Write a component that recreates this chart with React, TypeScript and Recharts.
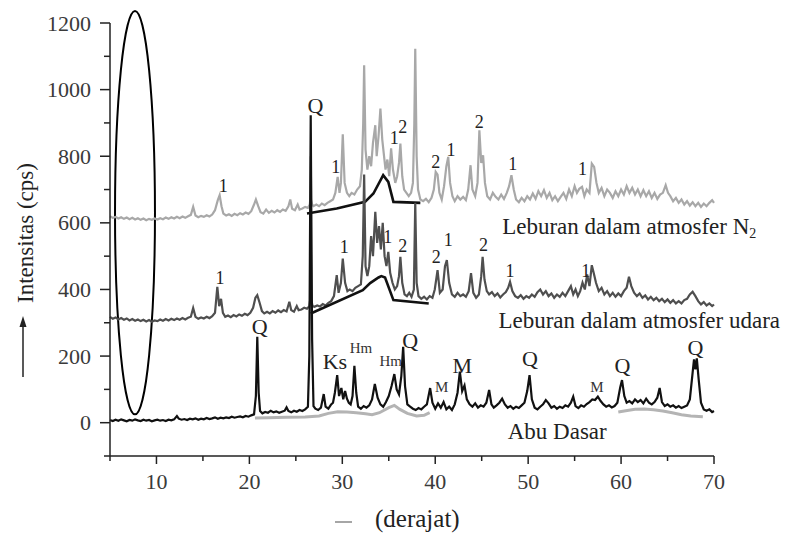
import { ComposedChart, Line, Scatter, XAxis, YAxis, ReferenceArea } from "recharts";

type Pt = [number, number];

// XRD traces, [2theta, intensity]
const abuDasar: Pt[] = [
  [5.0, 8], [5.3, 5], [5.6, 9], [5.9, 6], [6.2, 10], [6.5, 7], [6.8, 4], [7.1, 8], [7.4, 6], [7.7, 10],
  [8.0, 7], [8.3, 5], [8.6, 9], [8.9, 6], [9.2, 8], [9.5, 4], [9.8, 7], [10.1, 9], [10.4, 6], [10.7, 8],
  [11.0, 5], [11.3, 9], [11.6, 7], [11.9, 10], [12.2, 20], [12.4, 12], [12.7, 9], [13.0, 11], [13.3, 8],
  [13.6, 12], [13.9, 10], [14.2, 13], [14.5, 9], [14.8, 12], [15.1, 10], [15.4, 14], [15.7, 11], [16.0, 13],
  [16.3, 16], [16.6, 12], [16.9, 15], [17.2, 13], [17.5, 16], [17.8, 14], [18.1, 18], [18.4, 15], [18.7, 17],
  [19.0, 19], [19.3, 16], [19.6, 20], [19.9, 18], [20.2, 22], [20.5, 25], [20.7, 80], [20.85, 258], [21.0, 90],
  [21.15, 35], [21.4, 28], [21.7, 32], [22.0, 30], [22.3, 36], [22.6, 31], [22.9, 34], [23.2, 30], [23.5, 33],
  [23.8, 36], [24.0, 46], [24.2, 35], [24.5, 31], [24.8, 36], [25.1, 33], [25.4, 38], [25.7, 35], [26.0, 40],
  [26.3, 48], [26.45, 200], [26.6, 923], [26.75, 250], [26.9, 50], [27.1, 42], [27.4, 38], [27.7, 45],
  [28.0, 86], [28.2, 48], [28.5, 42], [28.8, 55], [29.0, 60], [29.2, 90], [29.45, 143], [29.65, 80],
  [29.9, 104], [30.1, 70], [30.3, 95], [30.5, 72], [30.7, 60], [30.9, 55], [31.1, 80], [31.3, 171], [31.5, 90],
  [31.7, 48], [32.0, 42], [32.3, 50], [32.6, 45], [32.9, 52], [33.2, 70], [33.5, 116], [33.8, 75], [34.1, 55],
  [34.4, 48], [34.7, 62], [35.0, 80], [35.3, 110], [35.6, 146], [35.85, 100], [36.1, 85], [36.35, 140],
  [36.55, 228], [36.75, 110], [37.0, 55], [37.3, 48], [37.6, 42], [37.9, 38], [38.2, 44], [38.5, 40],
  [38.8, 48], [39.1, 55], [39.45, 104], [39.7, 60], [40.0, 42], [40.3, 58], [40.6, 45], [40.9, 62], [41.2, 40],
  [41.5, 48], [41.8, 38], [42.1, 55], [42.4, 90], [42.65, 153], [42.9, 95], [43.15, 112], [43.4, 70],
  [43.7, 55], [44.0, 48], [44.3, 58], [44.6, 45], [44.9, 52], [45.2, 48], [45.5, 60], [45.8, 98], [46.05, 55],
  [46.3, 45], [46.6, 52], [46.9, 60], [47.2, 72], [47.5, 55], [47.8, 45], [48.1, 50], [48.4, 42], [48.7, 48],
  [49.0, 44], [49.3, 52], [49.6, 60], [49.9, 95], [50.15, 143], [50.4, 70], [50.7, 45], [51.0, 40], [51.3, 48],
  [51.6, 55], [51.9, 68], [52.2, 58], [52.5, 45], [52.8, 50], [53.1, 42], [53.4, 48], [53.7, 44], [54.0, 52],
  [54.3, 48], [54.6, 60], [54.85, 78], [55.1, 50], [55.4, 44], [55.7, 52], [56.0, 48], [56.3, 56], [56.6, 62],
  [56.9, 70], [57.2, 68], [57.5, 78], [57.8, 65], [58.1, 55], [58.4, 48], [58.7, 52], [59.0, 46], [59.3, 50],
  [59.6, 60], [59.9, 105], [60.1, 128], [60.35, 80], [60.6, 60], [60.9, 65], [61.2, 58], [61.5, 70],
  [61.8, 62], [62.1, 68], [62.4, 58], [62.7, 72], [63.0, 60], [63.3, 55], [63.6, 62], [63.9, 75], [64.15, 104],
  [64.4, 62], [64.7, 50], [65.0, 55], [65.3, 48], [65.6, 52], [65.9, 45], [66.2, 50], [66.5, 44], [66.8, 48],
  [67.1, 52], [67.4, 70], [67.7, 150], [67.85, 190], [68.0, 160], [68.15, 193], [68.35, 130], [68.6, 60],
  [68.9, 40], [69.2, 36], [69.5, 40], [69.8, 32], [70.0, 35],
];

const leburanUdara: Pt[] = [
  [5.0, 318], [5.3, 312], [5.6, 316], [5.9, 310], [6.2, 314], [6.5, 309], [6.8, 313], [7.1, 307], [7.4, 311],
  [7.7, 306], [8.0, 310], [8.3, 305], [8.6, 309], [8.9, 304], [9.2, 308], [9.5, 303], [9.8, 307], [10.1, 305],
  [10.4, 310], [10.7, 306], [11.0, 311], [11.3, 307], [11.6, 312], [11.9, 308], [12.2, 313], [12.5, 309],
  [12.8, 314], [13.1, 310], [13.4, 315], [13.7, 318], [13.95, 344], [14.2, 318], [14.5, 312], [14.8, 316],
  [15.1, 313], [15.4, 318], [15.7, 314], [16.0, 320], [16.3, 330], [16.55, 408], [16.75, 350], [16.95, 372],
  [17.15, 330], [17.4, 318], [17.7, 322], [18.0, 317], [18.3, 323], [18.6, 319], [18.9, 325], [19.2, 321],
  [19.5, 327], [19.8, 323], [20.1, 330], [20.4, 345], [20.65, 375], [20.85, 383], [21.1, 360], [21.35, 335],
  [21.6, 328], [21.9, 333], [22.2, 328], [22.5, 335], [22.8, 330], [23.1, 337], [23.4, 332], [23.7, 338],
  [24.0, 334], [24.3, 363], [24.5, 338], [24.8, 333], [25.1, 350], [25.3, 338], [25.6, 340], [25.9, 345],
  [26.2, 342], [26.45, 350], [26.55, 370], [26.6, 650], [26.65, 370], [26.8, 350], [27.0, 348], [27.3, 352],
  [27.6, 349], [27.9, 356], [28.2, 352], [28.5, 360], [28.8, 365], [29.1, 380], [29.4, 443], [29.6, 390],
  [29.85, 420], [30.05, 493], [30.3, 420], [30.55, 395], [30.8, 400], [31.1, 395], [31.4, 405], [31.7, 410],
  [32.0, 415], [32.2, 500], [32.35, 745], [32.5, 470], [32.7, 440], [32.9, 470], [33.1, 560], [33.3, 500],
  [33.55, 633], [33.75, 540], [33.95, 590], [34.15, 520], [34.35, 600], [34.55, 500], [34.75, 470],
  [34.95, 513], [35.15, 450], [35.4, 420], [35.65, 400], [35.9, 410], [36.1, 440], [36.25, 498], [36.45, 420],
  [36.7, 385], [36.95, 380], [37.2, 390], [37.45, 378], [37.7, 400], [37.85, 660], [38.0, 420], [38.2, 380],
  [38.5, 372], [38.8, 378], [39.1, 370], [39.4, 380], [39.7, 375], [39.95, 400], [40.25, 458], [40.5, 390],
  [40.8, 400], [41.05, 470], [41.25, 488], [41.5, 420], [41.8, 385], [42.1, 378], [42.4, 390], [42.7, 380],
  [43.0, 385], [43.3, 378], [43.6, 395], [43.85, 449], [44.1, 390], [44.4, 375], [44.7, 385], [44.95, 440],
  [45.1, 498], [45.3, 430], [45.55, 395], [45.8, 385], [46.1, 392], [46.4, 380], [46.7, 388], [47.0, 376],
  [47.3, 385], [47.6, 392], [47.85, 405], [48.05, 423], [48.3, 395], [48.6, 380], [48.9, 375], [49.2, 383],
  [49.5, 372], [49.8, 380], [50.1, 375], [50.4, 385], [50.7, 378], [51.0, 392], [51.3, 400], [51.6, 385],
  [51.9, 395], [52.2, 380], [52.5, 388], [52.8, 375], [53.1, 385], [53.4, 378], [53.7, 390], [54.0, 380],
  [54.3, 395], [54.6, 410], [54.85, 385], [55.1, 400], [55.35, 380], [55.6, 395], [55.85, 420], [56.1, 400],
  [56.35, 445], [56.6, 410], [56.85, 473], [57.05, 450], [57.3, 420], [57.6, 395], [57.9, 405], [58.2, 385],
  [58.5, 395], [58.8, 380], [59.1, 390], [59.4, 378], [59.7, 388], [60.0, 380], [60.3, 395], [60.6, 405],
  [60.85, 438], [61.1, 410], [61.4, 390], [61.7, 380], [62.0, 388], [62.3, 375], [62.6, 382], [62.9, 370],
  [63.2, 378], [63.5, 368], [63.8, 375], [64.1, 365], [64.4, 372], [64.7, 362], [65.0, 370], [65.3, 360],
  [65.6, 368], [65.9, 358], [66.2, 365], [66.5, 358], [66.8, 368], [67.1, 372], [67.4, 385], [67.7, 393],
  [68.0, 380], [68.3, 365], [68.6, 355], [68.9, 362], [69.2, 352], [69.5, 358], [69.8, 350], [70.0, 355],
];

const leburanN2: Pt[] = [
  [5.0, 620], [5.3, 615], [5.6, 618], [5.9, 613], [6.2, 617], [6.5, 612], [6.8, 616], [7.1, 611], [7.4, 615],
  [7.7, 610], [8.0, 614], [8.3, 609], [8.6, 613], [8.9, 608], [9.2, 612], [9.5, 609], [9.8, 613], [10.1, 610],
  [10.4, 614], [10.7, 611], [11.0, 616], [11.3, 612], [11.6, 617], [11.9, 613], [12.2, 618], [12.5, 614],
  [12.8, 619], [13.1, 615], [13.4, 620], [13.7, 624], [13.95, 648], [14.2, 622], [14.5, 617], [14.8, 621],
  [15.1, 618], [15.4, 623], [15.7, 619], [16.0, 625], [16.3, 638], [16.6, 668], [16.8, 683], [17.0, 650],
  [17.2, 628], [17.5, 622], [17.8, 626], [18.1, 621], [18.4, 627], [18.7, 623], [19.0, 629], [19.3, 625],
  [19.6, 631], [19.9, 627], [20.2, 635], [20.5, 655], [20.7, 670], [20.95, 650], [21.2, 632], [21.5, 628],
  [21.8, 640], [22.1, 630], [22.4, 636], [22.7, 631], [23.0, 638], [23.3, 633], [23.6, 640], [23.9, 636],
  [24.2, 650], [24.4, 670], [24.6, 642], [24.9, 638], [25.2, 655], [25.4, 640], [25.7, 643], [26.0, 648],
  [26.3, 645], [26.5, 655], [26.55, 670], [26.6, 800], [26.65, 670], [26.75, 655], [26.9, 650], [27.2, 655],
  [27.5, 650], [27.8, 658], [28.1, 653], [28.4, 660], [28.7, 665], [29.0, 670], [29.25, 690], [29.5, 738],
  [29.7, 690], [29.85, 720], [30.05, 866], [30.25, 720], [30.5, 690], [30.75, 680], [31.0, 690], [31.3, 685],
  [31.6, 700], [31.9, 710], [32.1, 760], [32.25, 900], [32.35, 1073], [32.5, 820], [32.7, 760], [32.9, 800],
  [33.1, 770], [33.3, 840], [33.55, 893], [33.7, 800], [33.9, 860], [34.1, 943], [34.3, 850], [34.5, 798],
  [34.65, 760], [34.85, 790], [35.05, 740], [35.25, 824], [35.45, 760], [35.7, 720], [35.9, 740], [36.1, 780],
  [36.25, 838], [36.45, 740], [36.65, 700], [36.9, 690], [37.15, 680], [37.4, 690], [37.6, 720], [37.75, 900],
  [37.85, 1123], [38.0, 800], [38.15, 700], [38.4, 670], [38.7, 665], [39.0, 672], [39.3, 662], [39.6, 675],
  [39.85, 700], [40.05, 753], [40.25, 745], [40.45, 690], [40.7, 670], [40.95, 710], [41.2, 770], [41.4, 798],
  [41.6, 720], [41.85, 680], [42.1, 665], [42.4, 680], [42.7, 670], [43.0, 678], [43.3, 668], [43.55, 700],
  [43.8, 773], [44.0, 700], [44.3, 680], [44.55, 720], [44.75, 878], [44.95, 780], [45.15, 803], [45.35, 720],
  [45.6, 680], [45.9, 670], [46.2, 690], [46.5, 678], [46.8, 670], [47.1, 685], [47.4, 672], [47.7, 690],
  [47.95, 710], [48.2, 743], [48.45, 700], [48.7, 670], [49.0, 662], [49.3, 675], [49.6, 665], [49.9, 680],
  [50.2, 670], [50.5, 688], [50.8, 672], [51.1, 695], [51.4, 680], [51.7, 698], [52.0, 675], [52.3, 690],
  [52.6, 668], [52.9, 680], [53.2, 665], [53.5, 678], [53.8, 690], [54.1, 672], [54.4, 700], [54.7, 680],
  [55.0, 710], [55.25, 690], [55.5, 702], [55.8, 708], [56.05, 680], [56.3, 700], [56.6, 690], [56.85, 778],
  [57.1, 768], [57.35, 720], [57.6, 690], [57.9, 705], [58.2, 680], [58.5, 700], [58.8, 690], [59.1, 675],
  [59.4, 695], [59.7, 680], [60.0, 700], [60.3, 685], [60.6, 710], [60.9, 690], [61.2, 705], [61.5, 685],
  [61.8, 700], [62.1, 680], [62.4, 698], [62.7, 680], [63.0, 695], [63.3, 675], [63.6, 690], [63.9, 672],
  [64.2, 685], [64.5, 690], [64.8, 713], [65.05, 690], [65.3, 680], [65.6, 665], [65.9, 675], [66.2, 660],
  [66.5, 670], [66.8, 655], [67.1, 665], [67.4, 652], [67.7, 662], [68.0, 650], [68.3, 660], [68.6, 648],
  [68.9, 658], [69.2, 650], [69.5, 660], [69.8, 668], [70.0, 660],
];

// amorphous hump fits
const fitN2: Pt[] = [
  [26.2, 628], [29.4, 643], [32.45, 663], [33.35, 688], [34.4, 743], [34.95, 723], [35.5, 663], [38.4, 660],
];
const fitUdara: Pt[] = [
  [26.6, 328], [32.2, 398], [33.0, 419], [33.9, 436], [34.2, 440], [34.6, 436], [35.5, 368], [39.3, 358],
];
const fitAbuA: Pt[] = [
  [20.6, 14], [22, 15], [24, 16], [26, 17], [27.5, 20], [28.5, 28], [29.5, 33], [30.5, 32], [31.5, 30],
  [32.5, 27], [33.2, 24], [34, 30], [35, 45], [35.6, 52], [36.2, 40], [37, 28], [38, 20], [38.8, 22], [39.4, 30],
];
const fitAbuB: Pt[] = [
  [59.7, 32], [60.5, 36], [61.5, 40], [62.5, 41], [63.5, 39], [64.5, 35], [65.5, 30], [66.5, 24], [67.5, 20], [68.8, 18],
];

const xTicks = [5, 10, 15, 20, 25, 30, 35, 40, 45, 50, 55, 60, 65, 70];
const yTicks = [-100, 0, 100, 200, 300, 400, 500, 600, 700, 800, 900, 1000, 1100, 1200];

// peak annotations (text centre in data units)
const numberLabels = [
  { x: 17.2, y: 710, t: "1" }, { x: 29.3, y: 768, t: "1" }, { x: 35.6, y: 854, t: "1" }, { x: 36.5, y: 888, t: "2" },
  { x: 40.06, y: 783, t: "2" }, { x: 41.7, y: 818, t: "1" }, { x: 44.75, y: 903, t: "2" }, { x: 48.35, y: 778, t: "1" },
  { x: 55.85, y: 763, t: "1" },
  { x: 16.85, y: 433, t: "1" }, { x: 30.2, y: 526, t: "1" }, { x: 34.9, y: 558, t: "1" }, { x: 36.5, y: 530, t: "2" },
  { x: 40.1, y: 498, t: "2" }, { x: 41.4, y: 550, t: "1" }, { x: 45.2, y: 533, t: "2" }, { x: 48.05, y: 456, t: "1" },
  { x: 56.2, y: 456, t: "1" },
];
const phaseLabels = [
  { x: 21.1, y: 290, t: "Q" }, { x: 27.1, y: 953, t: "Q" }, { x: 29.2, y: 183, t: "Ks" }, { x: 37.3, y: 248, t: "Q" },
  { x: 42.9, y: 173, t: "M" }, { x: 50.2, y: 193, t: "Q" }, { x: 60.15, y: 173, t: "Q" }, { x: 68.0, y: 226, t: "Q" },
];
const smallLabels = [
  { x: 32.0, y: 223, t: "Hm" }, { x: 35.2, y: 185, t: "Hm" }, { x: 40.7, y: 106, t: "M" }, { x: 57.4, y: 106, t: "M" },
];
const seriesLabels = [
  { x: 47.2, y: 590, t: "Leburan dalam atmosfer N", sub: "2" },
  { x: 46.8, y: 308, t: "Leburan dalam atmosfer udara", sub: "" },
  { x: 47.8, y: -25, t: "Abu Dasar", sub: "" },
];

const toRows = (pts: Pt[]) => pts.map(([x, y]) => ({ x, y }));
const serif = "Liberation Serif, Times New Roman, serif";

const YTick = (props: any) => {
  const { x, y, payload } = props;
  const v = payload.value;
  const major = v >= 0 && v % 200 === 0;
  return (
    <g>
      <line x1={x - (major ? 10 : 6)} x2={x} y1={y} y2={y} stroke="#222" strokeWidth={1.5} />
      {major && (
        <text x={x - 19} y={y} textAnchor="end" dominantBaseline="central" fontSize={22} fontFamily={serif} fill="#3a3a3a">
          {v}
        </text>
      )}
    </g>
  );
};

const XTick = (props: any) => {
  const { x, y, payload } = props;
  const v = payload.value;
  const major = v % 10 === 0;
  return (
    <g>
      <line x1={x} x2={x} y1={y} y2={y + (major ? 8 : 5)} stroke="#222" strokeWidth={1.5} />
      {major && (
        <text x={x} y={y + 25} textAnchor="middle" dominantBaseline="central" fontSize={22} fontFamily={serif} fill="#3a3a3a">
          {v}
        </text>
      )}
    </g>
  );
};

const labelShape = (size: number, fill: string) => (p: any) => (
  <text x={p.cx} y={p.cy} textAnchor="middle" dominantBaseline="central" fontSize={size} fontFamily={serif} fill={fill}>
    {p.payload.t}
  </text>
);

const seriesShape = (p: any) => (
  <text x={p.cx} y={p.cy} dominantBaseline="central" fontSize={23} fontFamily={serif} fill="#222">
    {p.payload.t}
    {p.payload.sub && (
      <tspan fontSize={14} dy={7}>
        {p.payload.sub}
      </tspan>
    )}
  </text>
);

export default function App() {
  return (
    <div style={{ position: "absolute", left: 0, top: 0, width: 792, height: 537, background: "#fff" }}>
      <ComposedChart width={792} height={537} margin={{ top: 23, right: 78, bottom: 51, left: 0 }}>
        <XAxis
          type="number"
          dataKey="x"
          domain={[5, 70]}
          ticks={xTicks}
          interval={0}
          tickSize={0}
          tickMargin={0}
          tick={<XTick />}
          axisLine={{ stroke: "#222", strokeWidth: 1.5 }}
          height={30}
        />
        <YAxis
          type="number"
          domain={[-100, 1200]}
          ticks={yTicks}
          interval={0}
          tickSize={0}
          tickMargin={0}
          tick={<YTick />}
          axisLine={{ stroke: "#222", strokeWidth: 1.5 }}
          width={110}
        />
        <ReferenceArea
          x1={5.54}
          x2={9.84}
          y1={25}
          y2={1236}
          ifOverflow="visible"
          shape={(p: any) => (
            <ellipse
              cx={p.x + p.width / 2}
              cy={p.y + p.height / 2}
              rx={Math.abs(p.width) / 2}
              ry={Math.abs(p.height) / 2}
              fill="none"
              stroke="#000"
              strokeWidth={2}
            />
          )}
        />
        <Line data={toRows(leburanN2)} dataKey="y" stroke="#a8a8a8" strokeWidth={2.2} dot={false} isAnimationActive={false} />
        <Line data={toRows(fitN2)} dataKey="y" stroke="#111" strokeWidth={2.6} dot={false} isAnimationActive={false} />
        <Line data={toRows(leburanUdara)} dataKey="y" stroke="#4f4f4f" strokeWidth={2.2} dot={false} isAnimationActive={false} />
        <Line data={toRows(fitUdara)} dataKey="y" stroke="#111" strokeWidth={2.6} dot={false} isAnimationActive={false} />
        <Line data={toRows(fitAbuA)} dataKey="y" stroke="#b4b4b4" strokeWidth={3} dot={false} isAnimationActive={false} />
        <Line data={toRows(fitAbuB)} dataKey="y" stroke="#b4b4b4" strokeWidth={3} dot={false} isAnimationActive={false} />
        <Line data={toRows(abuDasar)} dataKey="y" stroke="#111" strokeWidth={2.2} dot={false} isAnimationActive={false} />
        <Scatter data={numberLabels} dataKey="y" shape={labelShape(18, "#222")} isAnimationActive={false} />
        <Scatter data={phaseLabels} dataKey="y" shape={labelShape(22, "#222")} isAnimationActive={false} />
        <Scatter data={smallLabels} dataKey="y" shape={labelShape(15, "#333")} isAnimationActive={false} />
        <Scatter data={seriesLabels} dataKey="y" shape={seriesShape} isAnimationActive={false} />
      </ComposedChart>
      <svg width={792} height={537} style={{ position: "absolute", left: 0, top: 0, pointerEvents: "none" }}>
        <text
          x={25}
          y={233}
          transform="rotate(-90 25 233)"
          textAnchor="middle"
          dominantBaseline="central"
          fontSize={23}
          fontFamily={serif}
          fill="#222"
        >
          Intensitas (cps)
        </text>
        <line x1={23} x2={23} y1={377} y2={326} stroke="#222" strokeWidth={1.5} />
        <polygon points="23,316 19.5,327 26.5,327" fill="#222" />
        <line x1={335} x2={352} y1={522} y2={522} stroke="#888" strokeWidth={1.5} />
        <text x={375} y={527} fontSize={25} fontFamily={serif} fill="#222">
          (derajat)
        </text>
      </svg>
    </div>
  );
}
